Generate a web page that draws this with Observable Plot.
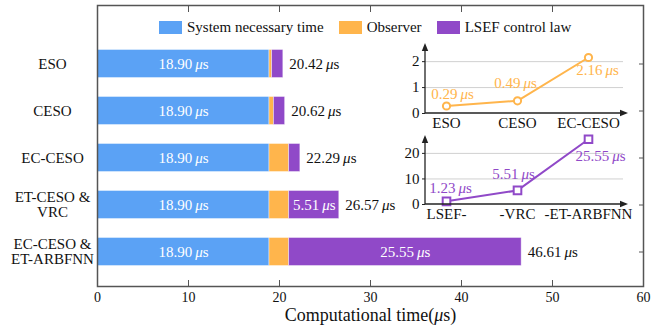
<!DOCTYPE html>
<html><head><meta charset="utf-8">
<script src="https://cdn.jsdelivr.net/npm/d3@7"></script>
<script src="https://cdn.jsdelivr.net/npm/@observablehq/plot@0.6"></script>
<style>
body{margin:0;background:#fff;}
#wrap{position:relative;width:668px;height:330px;font-family:'Liberation Serif',serif;}
#wrap > *{position:absolute;}
#wrap .lg-swatches{flex-wrap:nowrap;width:max-content;margin:0;font-family:'Liberation Serif',serif;font-size:15px;color:#111;}
#wrap .lg-swatch > svg{margin-right:5px;}
#wrap .lg-swatch{margin-right:15px;}
</style></head><body><div id="wrap"></div>
<script>
// ---- data ----
const categories = ["ESO", "CESO", "EC-CESO", "ET-CESO &\nVRC", "EC-CESO &\nET-ARBFNN"];
const seriesNames = ["System necessary time", "Observer", "LSEF control law"];
const systemTime = [18.90, 18.90, 18.90, 18.90, 18.90];
const observerTime = [0.29, 0.49, 2.16, 2.16, 2.16];
const lsefTime = [1.23, 1.23, 1.23, 5.51, 25.55];
const totalTime = [20.42, 20.62, 22.29, 26.57, 46.61];
const xTicks = [0, 10, 20, 30, 40, 50, 60];
const xTitle = "Computational time(μs)";

const observerCats = ["ESO", "CESO", "EC-CESO"];
const observerVals = [0.29, 0.49, 2.16];
const observerTicks = [0, 1, 2];
const lsefCats = ["LSEF-", "-VRC", "-ET-ARBFNN"];
const lsefVals = [1.23, 5.51, 25.55];
const lsefTicks = [0, 10, 20];

const colors = ["#5BA2F5", "#FFB54C", "#9049C8"];
const FAMILY = "'Liberation Serif',serif";
const STYLE = `font-family:${FAMILY};font-size:14px;color:#111;background:transparent;overflow:visible;`;

// ---- tables ----
const segs = [];
categories.forEach((c, i) => {
  [systemTime[i], observerTime[i], lsefTime[i]].forEach((v, j) =>
    segs.push({cat: c, series: seriesNames[j], value: v, idx: j}));
});
const totals = categories.map((c, i) => ({cat: c, total: totalTime[i]}));
const fmt = v => `${v.toFixed(2)}\u2009μs`;

const wrap = document.getElementById("wrap");

// ---- main chart ----
const main = Plot.plot({
  width: 668, height: 330,
  marginLeft: 97, marginRight: 25, marginTop: 5, marginBottom: 44,
  style: STYLE,
  x: {domain: [0, 60]},
  y: {domain: categories, range: [38.25, 275.75], padding: 0},
  color: {domain: seriesNames, range: colors},
  marks: [
    Plot.axisY({anchor: "left", tickSize: -5, tickPadding: 50, textAnchor: "middle", fontSize: 15, lineHeight: 1.0, label: null, stroke: "#555"}),
    Plot.axisY({anchor: "right", tickSize: -5, tickFormat: () => "", label: null, stroke: "#555"}),
    Plot.axisX({anchor: "bottom", ticks: xTicks, tickSize: -6, tickPadding: 12, fontSize: 14, label: null, stroke: "#555"}),
    Plot.axisX({anchor: "top", ticks: xTicks, tickSize: -6, tickFormat: () => "", label: null, stroke: "#555"}),
    Plot.barX(segs, {x: "value", y: "cat", fill: "series", insetTop: 9.5, insetBottom: 9.5, stroke: "white", strokeOpacity: 0.5, strokeWidth: 0.8}),
    Plot.text(segs, Plot.stackX({x: "value", y: "cat", z: "series",
      text: d => (d.idx === 0 || (d.idx === 2 && d.value > 5)) ? fmt(d.value) : "",
      fill: "white", fontSize: 15})),
    Plot.text(totals, {x: "total", y: "cat", text: d => fmt(d.total), textAnchor: "start", dx: 6, fill: "#111", fontSize: 15}),
    Plot.text([xTitle], {text: d => d, frameAnchor: "bottom", dy: 34.5, fontSize: 18, fill: "#111"}),
    Plot.frame({stroke: "#555", strokeWidth: 1.5})
  ]
});
main.style.left = "0px"; main.style.top = "0px";
wrap.appendChild(main);

// ---- legend ----
const leg = Plot.legend({color: {domain: seriesNames, range: colors}, legend: "swatches",
  swatchWidth: 23, swatchHeight: 13, className: "lg"});
leg.style.left = "159px"; leg.style.top = "11px";
wrap.appendChild(leg);

// ---- insets ----
function addArrows(svg, w, h, ml, mr, mt, mb) {
  const g = d3.select(svg).append("g").attr("stroke", "#222").attr("fill", "#222");
  const x0 = ml, y0 = h - mb, xe = w - mr + 5, ye = mt;
  g.append("line").attr("x1", x0).attr("y1", y0).attr("x2", xe - 4).attr("y2", y0).attr("stroke-width", 1.3);
  g.append("line").attr("x1", x0).attr("y1", y0).attr("x2", x0).attr("y2", ye + 4).attr("stroke-width", 1.3);
  g.append("path").attr("stroke", "none").attr("d", `M${xe},${y0}l-8,-3.2v6.4z`);
  g.append("path").attr("stroke", "none").attr("d", `M${x0},${ye}l-3.2,8h6.4z`);
}

function inset({cats, vals, ticks, ymax, color, symbol, r, offsets, left, top, mt, mb}) {
  const data = cats.map((c, i) => ({cat: c, v: vals[i]}));
  const W = 250, H = 100, ML = 40, MR = 12;
  const svg = Plot.plot({
    width: W, height: H, marginLeft: ML, marginRight: MR, marginTop: mt, marginBottom: mb,
    style: STYLE,
    x: {type: "point", domain: cats, range: [61, 203], padding: 0},
    y: {domain: [0, ymax]},
    marks: [
      Plot.gridY(ticks.filter(t => t > 0), {stroke: "#d0d0d0", strokeOpacity: 1, strokeWidth: 1}),
      Plot.axisY({ticks, tickFormat: d3.format("d"), tickSize: 3, tickPadding: 3, label: null, stroke: "#222", fontSize: 15}),
      Plot.axisX({tickSize: 0, tickPadding: 4, label: null, fontSize: 15}),
      Plot.line(data, {x: "cat", y: "v", stroke: color, strokeWidth: 2}),
      Plot.dot(data, {x: "cat", y: "v", stroke: color, fill: "white", r, symbol, strokeWidth: 2}),
      ...data.map((d, i) => Plot.text([d], {x: "cat", y: "v", text: e => fmt(e.v), fill: color, fontSize: 15,
        dx: offsets[i][0], dy: offsets[i][1]}))
    ]
  });
  addArrows(svg, W, H, ML, MR, mt, mb);
  svg.style.left = left + "px"; svg.style.top = top + "px";
  wrap.appendChild(svg);
}

inset({cats: observerCats, vals: observerVals, ticks: observerTicks, ymax: 2.7, color: colors[1],
  symbol: "circle", r: 3.6, offsets: [[6, -12], [-2, -18], [9, 13]], left: 385, top: 30, mt: 13, mb: 17});
inset({cats: lsefCats, vals: lsefVals, ticks: lsefTicks, ymax: 27, color: colors[2],
  symbol: "square", r: 4.3, offsets: [[4, -13], [-4, -16], [12, 17]], left: 385, top: 125, mt: 10, mb: 21});

// ---- italic mu ----
function italMu(root) {
  root.querySelectorAll("text, tspan").forEach(el => {
    [...el.childNodes].forEach(n => {
      if (n.nodeType === 3 && n.nodeValue.includes("μ")) {
        const parts = n.nodeValue.split("μ");
        const frag = document.createDocumentFragment();
        parts.forEach((p, i) => {
          if (i > 0) {
            const t = document.createElementNS("http://www.w3.org/2000/svg", "tspan");
            t.setAttribute("font-style", "italic");
            t.textContent = "μ";
            frag.appendChild(t);
          }
          if (p) frag.appendChild(document.createTextNode(p));
        });
        el.replaceChild(frag, n);
      }
    });
  });
}
italMu(wrap);
</script></body></html>
